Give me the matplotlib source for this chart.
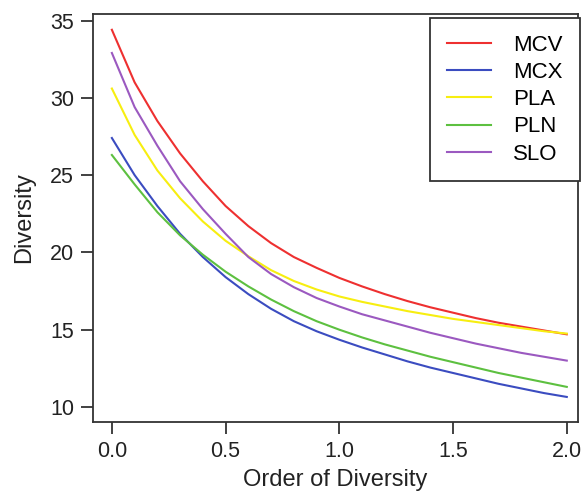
import numpy as np
import matplotlib.pyplot as plt

plt.rcParams['font.family'] = ['Liberation Sans', 'DejaVu Sans']

order = [0.0, 0.1, 0.2, 0.3, 0.4, 0.5, 0.6, 0.7, 0.8, 0.9, 1.0,
         1.1, 1.2, 1.3, 1.4, 1.5, 1.6, 1.7, 1.8, 1.9, 2.0]

mcv = [34.4, 31.0, 28.5, 26.4, 24.6, 23.0, 21.7, 20.6, 19.7, 19.0, 18.35,
       17.8, 17.3, 16.85, 16.45, 16.1, 15.75, 15.45, 15.2, 14.95, 14.7]
mcx = [27.4, 25.0, 23.0, 21.2, 19.7, 18.4, 17.3, 16.35, 15.55, 14.9, 14.35,
       13.85, 13.4, 12.95, 12.55, 12.2, 11.85, 11.5, 11.2, 10.9, 10.65]
pla = [30.6, 27.6, 25.3, 23.5, 22.0, 20.75, 19.75, 18.85, 18.15, 17.6, 17.15,
       16.8, 16.5, 16.2, 15.95, 15.7, 15.5, 15.3, 15.1, 14.9, 14.75]
pln = [26.3, 24.4, 22.6, 21.1, 19.85, 18.75, 17.8, 16.95, 16.2, 15.55, 15.0,
       14.5, 14.05, 13.65, 13.25, 12.9, 12.55, 12.2, 11.9, 11.6, 11.3]
slo = [32.9, 29.4, 26.9, 24.6, 22.8, 21.2, 19.7, 18.6, 17.75, 17.05, 16.5,
       16.0, 15.6, 15.2, 14.8, 14.45, 14.1, 13.8, 13.5, 13.25, 13.0]

series = [('MCV', mcv, '#EE3030'),
          ('MCX', mcx, '#3B4CC0'),
          ('PLA', pla, '#F7EE10'),
          ('PLN', pln, '#5DC040'),
          ('SLO', slo, '#9B59C0')]

fig = plt.figure(figsize=(5.84, 4.95), dpi=100)
ax = fig.add_axes([0.159, 0.1475, 0.831, 0.8242])

for name, vals, col in series:
    ax.plot(order, vals, color=col, linewidth=1.5, label=name)

ax.set_xlim(-0.0836, 2.05)
ax.set_ylim(9.03, 35.42)
ax.set_xticks([0.0, 0.5, 1.0, 1.5, 2.0])
ax.set_xticklabels(['0.0', '0.5', '1.0', '1.5', '2.0'])
ax.set_yticks([10, 15, 20, 25, 30, 35])

for sp in ax.spines.values():
    sp.set_color('#333333')
    sp.set_linewidth(1.3)
ax.tick_params(direction='out', length=8.5, width=1.3, color='#333333',
               labelsize=15.5, labelcolor='#222222', pad=5)

ax.set_xlabel('Order of Diversity', fontsize=17, color='#222222', labelpad=5)
ax.set_ylabel('Diversity', fontsize=17, color='#222222', labelpad=11)

leg = ax.legend(loc='upper right', bbox_to_anchor=(1.003, 0.99), fontsize=16,
                frameon=True, fancybox=False, handlelength=2.0,
                handletextpad=1.0, labelspacing=0.28, borderpad=0.75,
                borderaxespad=0.0)
leg.get_frame().set_edgecolor('#333333')
leg.get_frame().set_linewidth(1.3)
leg.get_frame().set_alpha(1.0)

fig.savefig('out.png', dpi=100)
